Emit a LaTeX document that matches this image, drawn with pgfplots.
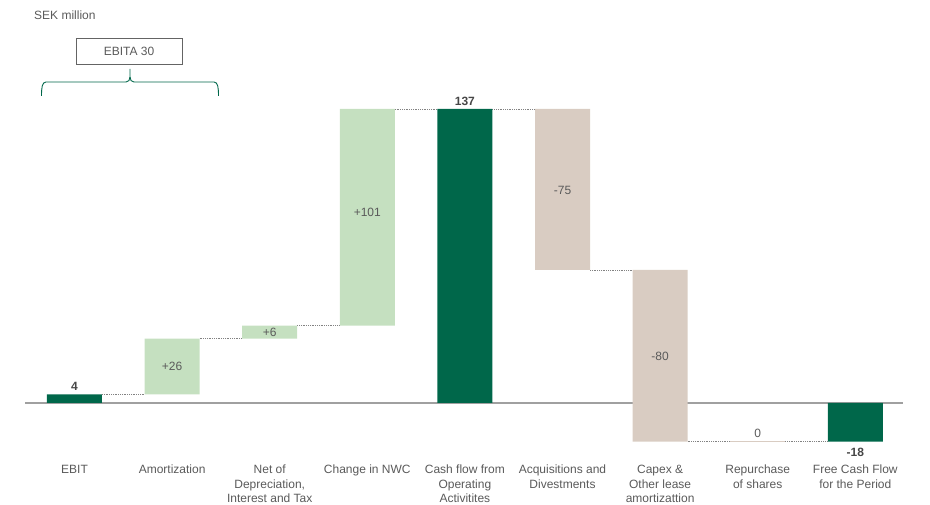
\documentclass[border=0pt]{standalone}
\usepackage{pgfplots}
\pgfplotsset{compat=1.18}
\usepackage{pgfplotstable}
\usepackage{fontspec}
\setmainfont{Liberation Sans}

\definecolor{darkgreen}{RGB}{0,103,74}
\definecolor{lightgreen}{RGB}{197,224,192}
\definecolor{beige}{RGB}{217,204,194}
\definecolor{txt}{RGB}{90,90,90}
\definecolor{txtbold}{RGB}{70,70,70}
\definecolor{zeroline}{RGB}{160,160,160}
\definecolor{dotline}{RGB}{130,130,130}
\definecolor{boxgray}{RGB}{100,100,100}

% Cash flow bridge: invisible base plus the visible segment of each step
\pgfplotstableread{
x base dark light beige
0  0    4    0    0
1  4    0    26   0
2  30   0    6    0
3  36   0    101  0
4  0    137  0    0
5  62   0    0    75
6  -18  0    0    80
7  -18  0    0    0
8  0    -18  0    0
}\flowdata

\newcommand{\lblfont}{\fontsize{12}{14.5}\selectfont}
\tikzset{conn/.style={dotline, line width=0.8pt, dash pattern=on 1pt off 0.8pt}}

\begin{document}
\begin{tikzpicture}
\begin{axis}[
  at={(0,0)}, anchor=south west,
  width=930pt, height=505pt, scale only axis,
  xmin=-0.7633, xmax=8.7654, ymin=-47.53, ymax=187.79,
  ybar stacked, stack negative=on previous, bar width=55pt,
  axis line style={draw=none},
  major tick length=0pt,
  ytick=\empty,
  xtick={0,...,8},
  xticklabels={EBIT, Amortization, {Net of\\Depreciation,\\Interest and Tax},
    Change in NWC, {Cash flow from\\Operating\\Activitites},
    {Acquisitions and\\Divestments}, {Capex \&\\Other lease\\amortizattion},
    {Repurchase\\of shares}, {Free Cash Flow\\for the Period}},
  xticklabel style={align=center, font=\lblfont, text=txt, anchor=north,
    inner sep=0pt, yshift=40pt},
  clip=false,
]
\addplot[fill=none, draw=none] table[x=x, y=base] {\flowdata};
\addplot[fill=darkgreen, draw=none] table[x=x, y=dark] {\flowdata};
\addplot[fill=lightgreen, draw=none] table[x=x, y=light] {\flowdata};
\addplot[fill=beige, draw=none] table[x=x, y=beige] {\flowdata};

% zero line
\draw[zeroline, line width=1.4pt] (axis cs:-0.507,0) -- (axis cs:8.489,0);

% dotted connectors between consecutive steps
\draw[conn] (axis cs:0.282,4)   -- (axis cs:0.718,4);
\draw[conn] (axis cs:1.282,30)  -- (axis cs:1.718,30);
\draw[conn] (axis cs:2.282,36)  -- (axis cs:2.718,36);
\draw[conn] (axis cs:3.282,137) -- (axis cs:3.718,137);
\draw[conn] (axis cs:4.282,137) -- (axis cs:4.718,137);
\draw[conn] (axis cs:5.282,62)  -- (axis cs:5.718,62);
\draw[conn] (axis cs:6.282,-18) -- (axis cs:6.718,-18);
\draw[conn] (axis cs:7.282,-18) -- (axis cs:7.718,-18);
\draw[beige, line width=1pt] (axis cs:6.718,-18) -- (axis cs:7.282,-18);

% anchor points for the value labels
\coordinate (v0) at (axis cs:0,4);
\coordinate (v1) at (axis cs:1,17);
\coordinate (v2) at (axis cs:2,33);
\coordinate (v3) at (axis cs:3,89);
\coordinate (v4) at (axis cs:4,137);
\coordinate (v5) at (axis cs:5,99);
\coordinate (v6) at (axis cs:6,21.5);
\coordinate (v7) at (axis cs:7,-18);
\coordinate (v8) at (axis cs:8,-18);
\end{axis}

% value labels, on top of the bars
\node[anchor=south, font=\lblfont\bfseries, text=txtbold] at (v0) {4};
\node[font=\lblfont, text=txt] at (v1) {+26};
\node[font=\lblfont, text=txt] at (v2) {+6};
\node[font=\lblfont, text=txt] at (v3) {+101};
\node[anchor=south, font=\lblfont\bfseries, text=txtbold] at (v4) {137};
\node[font=\lblfont, text=txt] at (v5) {-75};
\node[font=\lblfont, text=txt] at (v6) {-80};
\node[anchor=south, font=\lblfont, text=txt] at (v7) {0};
\node[anchor=north, font=\lblfont\bfseries, text=txtbold, yshift=-3pt] at (v8) {-18};

% unit note, EBITA box and brace
\begin{scope}[shift={(current axis.north west)}, x=1pt, y=-1pt]
\node[anchor=west, inner sep=0pt, text=txt, font=\lblfont] at (34,15) {SEK million};
\draw[boxgray, line width=0.8pt] (76,38) rectangle (182,64);
\node[text=txt, font=\lblfont] at (129,51) {EBITA 30};
\draw[darkgreen, line width=0.9pt]
  (41.5,96) .. controls (41.5,88) and (42,82) .. (46,82) -- (126,82)
  .. controls (128.5,82) and (130,80) .. (130,77) -- (130,69);
\draw[darkgreen, line width=0.9pt]
  (218.5,96) .. controls (218.5,88) and (218,82) .. (214,82) -- (134,82)
  .. controls (131.5,82) and (130,80) .. (130,77);
\end{scope}

\pgfresetboundingbox
\useasboundingbox (current axis.south west) rectangle (current axis.north east);
\end{tikzpicture}
\end{document}
